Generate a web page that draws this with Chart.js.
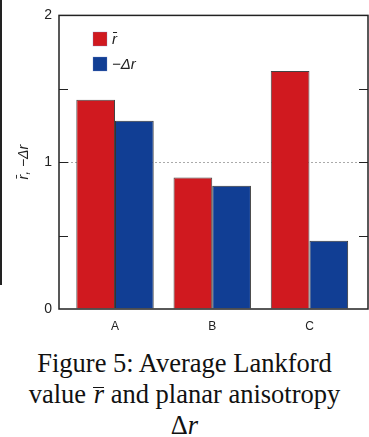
<!DOCTYPE html>
<html><head><meta charset="utf-8">
<script src="https://cdn.jsdelivr.net/npm/chart.js@4/dist/chart.umd.min.js"></script>
<style>
html,body{margin:0;padding:0;background:#fff;width:369px;height:437px;overflow:hidden;}
#wrap{position:absolute;left:0;top:0;width:369px;height:338px;}
#edge{position:absolute;left:0;top:0;width:2px;height:285px;background:#222;}
#cap{position:absolute;left:-20px;top:348px;width:409px;text-align:center;font-family:"Liberation Serif","Times New Roman",serif;font-size:26.5px;line-height:31px;color:#111;white-space:nowrap;}
.ob{display:inline-block;font-style:italic;line-height:13px;border-top:1.6px solid #111;padding-left:1px;}
</style></head><body>
<div id="wrap"><canvas id="c" width="369" height="338"></canvas></div>
<div id="edge"></div>
<div id="cap">Figure 5: Average Lankford<br>value <span class="ob">r</span> and planar anisotropy<br>Δ<i>r</i></div>
<script>
const categories = ['A','B','C'];
const rBar = [1.425, 0.896, 1.621];
const negDeltaR = [1.283, 0.839, 0.465];
const yTicks = [0, 1, 2];
const minorTicks = [0.5, 1, 1.5];
const seriesLabels = ['r̄', '−Δr'];
const colors = ['#d0191f', '#113e94'];

const frame = {
  id: 'frame',
  afterDatasetsDraw(chart) {
    const {ctx, chartArea: a, scales} = chart;
    ctx.save();
    ctx.strokeStyle = '#222';
    ctx.lineWidth = 1.5;
    ctx.strokeRect(a.left, a.top, a.right - a.left, a.bottom - a.top);
    ctx.lineWidth = 1;
    minorTicks.forEach(v => {
      const y = Math.round(scales.y.getPixelForValue(v)) + 0.5;
      ctx.beginPath();
      ctx.moveTo(a.left, y); ctx.lineTo(a.left + 9, y);
      ctx.moveTo(a.right, y); ctx.lineTo(a.right - 9, y);
      ctx.stroke();
    });
    // legend
    const lx = 93, ly = [32, 57];
    chart.data.datasets.forEach((ds, i) => {
      ctx.fillStyle = ds.backgroundColor;
      ctx.fillRect(lx, ly[i], 14, 14);
      ctx.strokeStyle = 'rgba(120,140,200,0.6)';
      ctx.lineWidth = 0.5;
      ctx.strokeRect(lx, ly[i], 14, 14);
      ctx.fillStyle = '#222';
      ctx.textBaseline = 'middle';
      ctx.textAlign = 'left';
      ctx.font = 'italic 15px "Liberation Sans", Arial, sans-serif';
      ctx.fillText(ds.label, lx + 19, ly[i] + 8);
    });
    ctx.restore();
  }
};

new Chart(document.getElementById('c'), {
  type: 'bar',
  data: {
    datasets: [
      {label: seriesLabels[0], data: rBar.map((v, i) => ({x: i, y: v})), backgroundColor: colors[0], borderColor: '#444', borderWidth: 1},
      {label: seriesLabels[1], data: negDeltaR.map((v, i) => ({x: i, y: v})), backgroundColor: colors[1], borderColor: '#333', borderWidth: 1}
    ]
  },
  options: {
    responsive: false,
    animation: false,
    devicePixelRatio: 1,
    layout: {padding: {left: 0, right: 1, top: 15, bottom: 0}},
    categoryPercentage: 0.796,
    barPercentage: 1,
    plugins: {legend: {display: false}, tooltip: {enabled: false}},
    scales: {
      x: {
        type: 'linear',
        offset: false,
        min: -0.576, max: 2.602,
        afterBuildTicks: s => { s.ticks = categories.map((c, i) => ({value: i})); },
        afterFit: s => { s.height = 29; },
        grid: {display: false, drawTicks: false},
        border: {display: false},
        ticks: {padding: 10, color: '#222', font: {family: '"Liberation Sans", Arial, sans-serif', size: 12}, callback: v => categories[v] ?? ''}
      },
      y: {
        min: 0, max: 2,
        afterBuildTicks: s => { s.ticks = yTicks.map(v => ({value: v})); },
        afterFit: s => { s.width = 59; },
        grid: {drawTicks: false, color: c => (c.tick && c.tick.value === 1) ? '#aaa' : 'rgba(0,0,0,0)', lineWidth: 1},
        border: {display: false, dash: [2, 2]},
        ticks: {padding: 7, color: '#222', font: {family: '"Liberation Sans", Arial, sans-serif', size: 14}},
        title: {display: true, text: 'r̄, −Δr', color: '#222', font: {family: '"Liberation Sans", Arial, sans-serif', size: 14, style: 'italic'}, padding: {top: 16, bottom: 0}}
      }
    }
  },
  plugins: [frame]
});
</script>
</body></html>
